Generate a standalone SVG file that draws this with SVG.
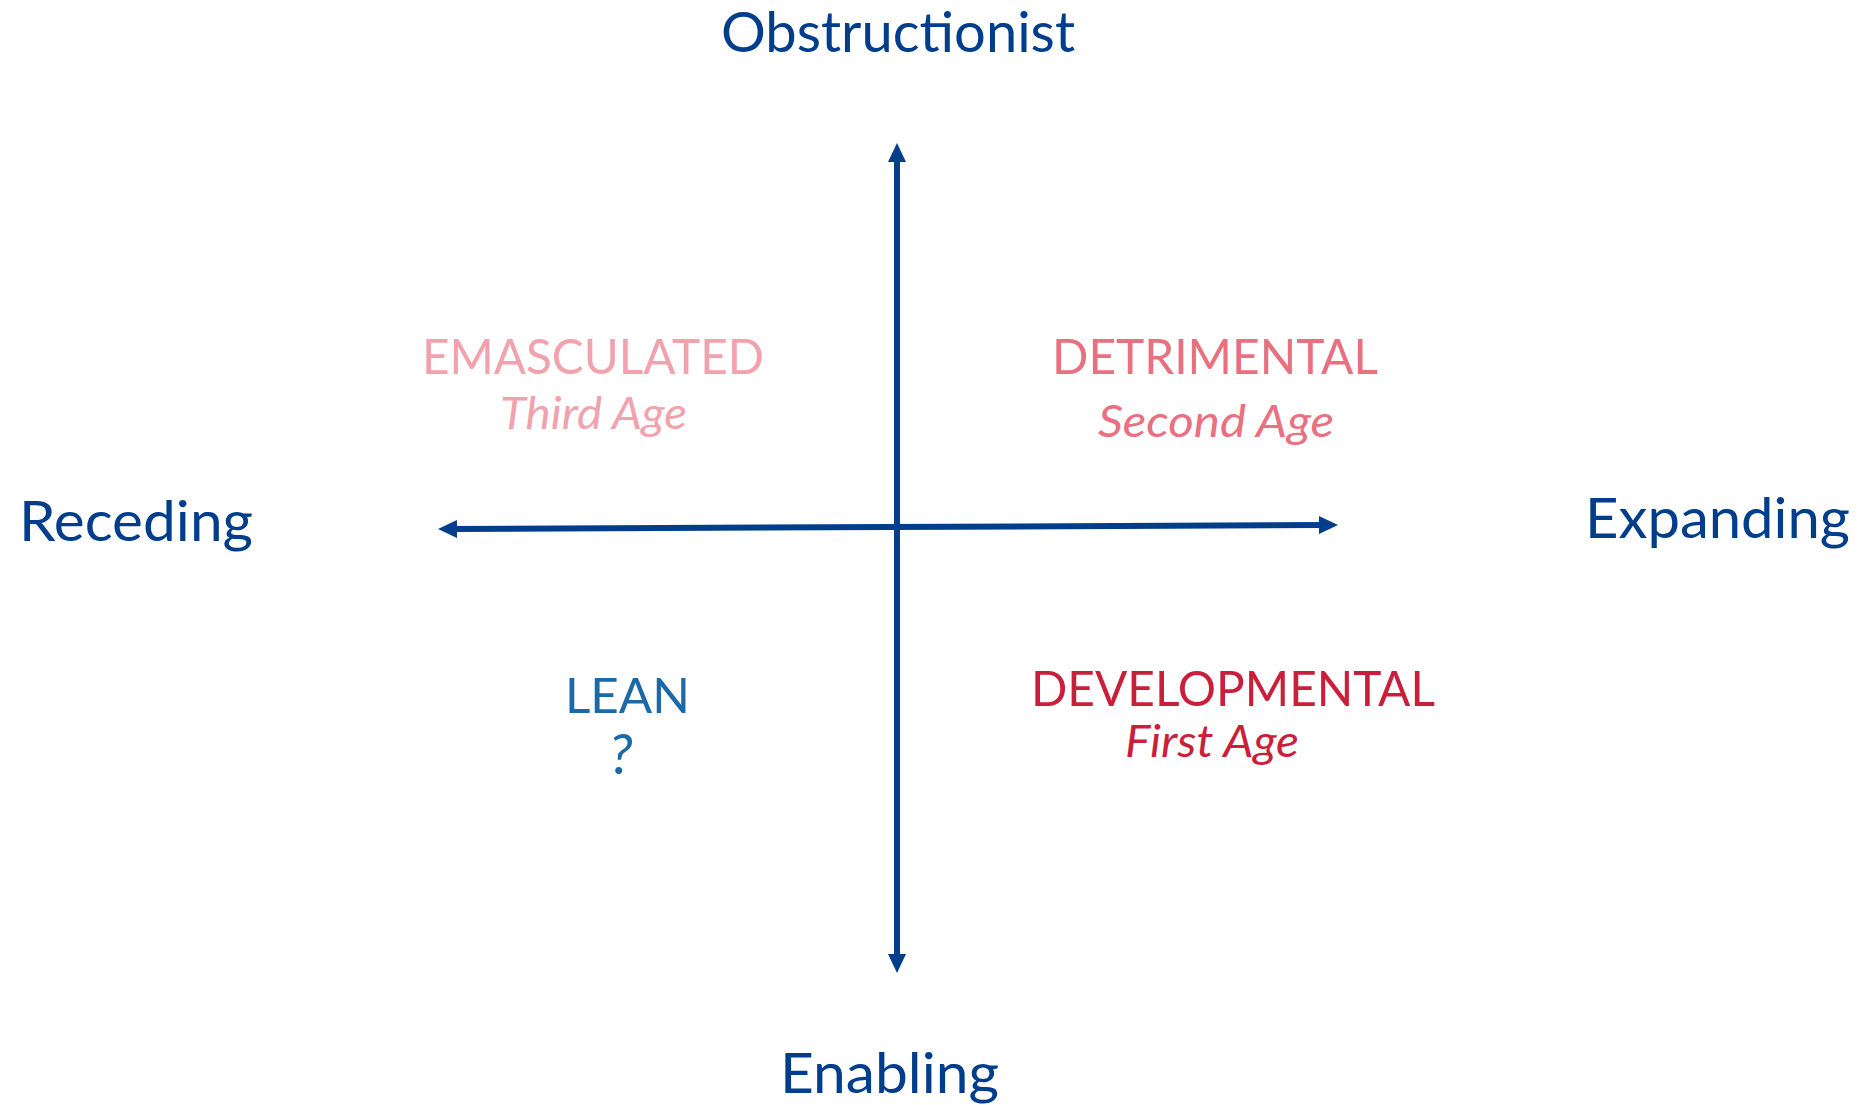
<svg xmlns="http://www.w3.org/2000/svg" width="1865" height="1105" viewBox="0 0 1865 1105">
<style>
text{font-family:Lato,"Open Sans","Liberation Sans",sans-serif;}
.axis{font-size:56px;fill:#003E8C;}
.quad{font-size:49px;}
.sub{font-size:44px;font-style:italic;}
.emas{fill:#F1A2AC;}
.detr{fill:#E8707F;}
.devl{fill:#C91F3B;}
.lean{fill:#1C69A8;}
.conn{stroke:#003E8C;stroke-width:6;fill:none;}
</style>
<defs>
<marker id="arr" viewBox="0 0 19 18" refX="4" refY="9" markerWidth="19" markerHeight="18" markerUnits="userSpaceOnUse" orient="auto-start-reverse">
<path d="M0,0 L19,9 L0,18 Z" fill="#003E8C"/>
</marker>
</defs>
<rect width="1865" height="1105" fill="#FFFFFF"/>
<g id="connectors">
<line class="conn" x1="897" y1="158" x2="897" y2="958" marker-start="url(#arr)" marker-end="url(#arr)"/>
<line class="conn" x1="453" y1="529" x2="1323" y2="525" marker-start="url(#arr)" marker-end="url(#arr)"/>
</g>
<g id="obstructionist"><text class="axis" x="721" y="52" font-size="57" textLength="354" lengthAdjust="spacingAndGlyphs">Obstructionist</text></g>
<g id="receding"><text class="axis" x="19" y="541" textLength="234" lengthAdjust="spacingAndGlyphs">Receding</text></g>
<g id="expanding"><text class="axis" x="1585" y="538" textLength="265" lengthAdjust="spacingAndGlyphs">Expanding</text></g>
<g id="enabling"><text class="axis" x="780" y="1093" textLength="219" lengthAdjust="spacingAndGlyphs">Enabling</text></g>
<g id="emasculated">
<text class="quad emas" x="422" y="374" textLength="342" lengthAdjust="spacingAndGlyphs">EMASCULATED</text>
<text class="sub emas" x="500" y="429" textLength="187" lengthAdjust="spacingAndGlyphs">Third Age</text>
</g>
<g id="detrimental">
<text class="quad detr" x="1052" y="374" textLength="326" lengthAdjust="spacingAndGlyphs">DETRIMENTAL</text>
<text class="sub detr" x="1098" y="437" textLength="236" lengthAdjust="spacingAndGlyphs">Second Age</text>
</g>
<g id="lean">
<text class="quad lean" x="565" y="713" textLength="125" lengthAdjust="spacingAndGlyphs">LEAN</text>
<text class="lean" x="621" y="774" font-size="56" font-style="italic" text-anchor="middle">?</text>
</g>
<g id="developmental">
<text class="quad devl" x="1031" y="706" textLength="404" lengthAdjust="spacingAndGlyphs">DEVELOPMENTAL</text>
<text class="sub devl" x="1125" y="757" textLength="174" lengthAdjust="spacingAndGlyphs">First Age</text>
</g>
</svg>
